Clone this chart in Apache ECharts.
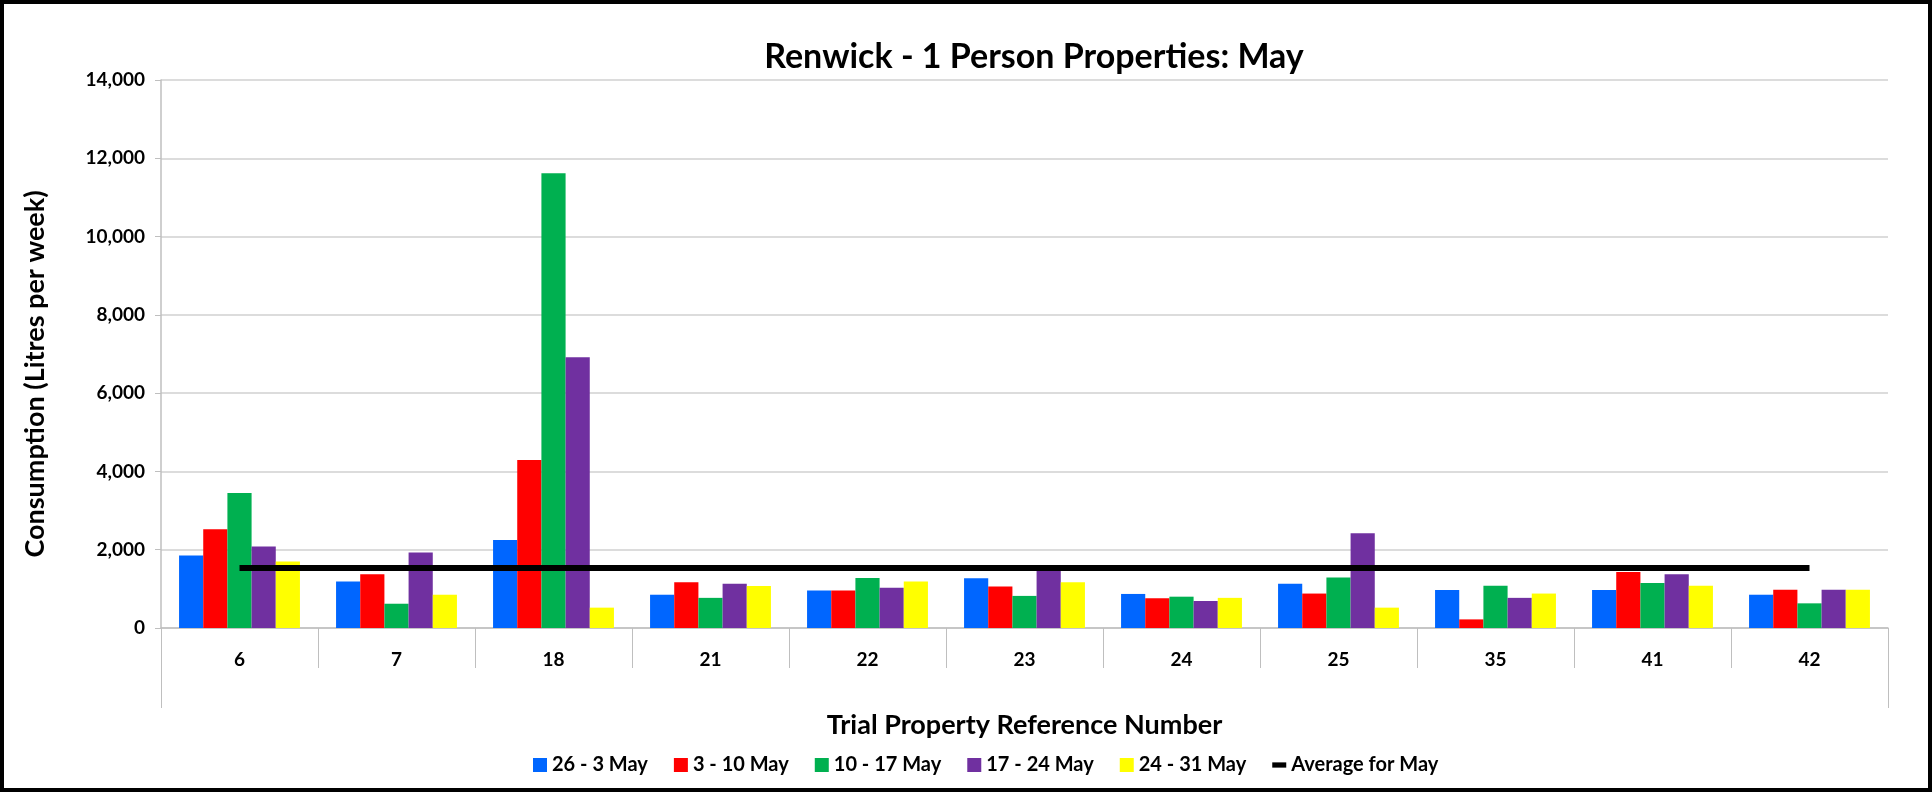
<!DOCTYPE html>
<html>
<head>
<meta charset="utf-8">
<script src="https://cdn.jsdelivr.net/npm/echarts@6/dist/echarts.min.js"></script>
<style>
html,body{margin:0;padding:0;background:#fff;}
#chart{width:1932px;height:792px;box-sizing:border-box;border:4px solid #000;}
</style>
</head>
<body>
<div id="chart"></div>
<script>
const categories = ['6','7','18','21','22','23','24','25','35','41','42'];
const seriesNames = ['26 - 3 May','3 - 10 May','10 - 17 May','17 - 24 May','24 - 31 May'];
const week1 = [1850, 1190, 2250, 850, 960, 1270, 870, 1130, 970, 970, 850];
const week2 = [2520, 1370, 4290, 1170, 960, 1060, 760, 880, 220, 1430, 980];
const week3 = [3450, 620, 11620, 770, 1280, 820, 800, 1290, 1080, 1150, 630];
const week4 = [2080, 1930, 6920, 1130, 1030, 1560, 690, 2420, 770, 1370, 980];
const week5 = [1700, 850, 520, 1070, 1190, 1170, 770, 520, 880, 1080, 980];
const averageName = 'Average for May';
const averageValue = [1530, 1530, 1530, 1530, 1530, 1530, 1530, 1530, 1530, 1530, 1530];
const colors = ['#0066FF','#FF0000','#00B050','#7030A0','#FFFF00'];
const weeks = [week1, week2, week3, week4, week5];

const FONT = 'Lato, "Liberation Sans", sans-serif';
const chart = echarts.init(document.getElementById('chart'), null, {renderer:'canvas'});

const barSeries = weeks.map((d, i) => ({
  name: seriesNames[i],
  type: 'bar',
  data: d,
  barGap: '0%',
  barCategoryGap: '23%',
  itemStyle: {color: colors[i]},
  animation: false
}));

chart.setOption({
  animation: false,
  title: {
    text: 'Renwick - 1 Person Properties: May',
    left: 1030,
    top: 36,
    padding: 0,
    textAlign: 'center',
    textStyle: {fontFamily: FONT, fontWeight: 'bold', fontSize: 34, color: '#000'}
  },
  legend: {
    bottom: 8,
    left: 524,
    itemWidth: 14,
    itemHeight: 14,
    itemGap: 26,
    data: seriesNames.map(n => ({name: n, icon: 'rect'})).concat([{
      name: averageName,
      icon: 'path://M0,0M0,5H16V11H0ZM16,16'
    }]),
    textStyle: {fontFamily: FONT, fontWeight: 'bold', fontSize: 20, color: '#000'}
  },
  grid: {left: 157, right: 40, top: 76, bottom: 160, containLabel: false},
  xAxis: [{
    type: 'category',
    data: categories,
    name: 'Trial Property Reference Number',
    nameLocation: 'middle',
    nameGap: 84,
    nameTextStyle: {fontFamily: FONT, fontWeight: 'bold', fontSize: 27, color: '#000'},
    axisLine: {show: true, lineStyle: {color: '#BFBFBF', width: 1.5}},
    axisTick: {show: true, interval: 0, length: 40, lineStyle: {color: '#BFBFBF', width: 1}},
    axisLabel: {interval: 0, margin: 22, fontFamily: FONT, fontWeight: 'bold', fontSize: 19, color: '#000'},
    splitLine: {show: false}
  }, {
    type: 'category',
    data: [''],
    position: 'bottom',
    axisLine: {show: false},
    axisTick: {show: true, length: 80, lineStyle: {color: '#BFBFBF', width: 1}},
    axisLabel: {show: false},
    splitLine: {show: false}
  }],
  yAxis: {
    type: 'value',
    min: 0,
    max: 14000,
    interval: 2000,
    name: 'Consumption (Litres per week)',
    nameLocation: 'middle',
    nameGap: 112,
    nameTextStyle: {fontFamily: FONT, fontWeight: 'bold', fontSize: 27, color: '#000', padding: [0, 40, 0, 0]},
    axisLine: {show: true, lineStyle: {color: '#BFBFBF', width: 1.5}},
    axisTick: {show: true, length: 6, lineStyle: {color: '#BFBFBF'}},
    axisLabel: {
      margin: 16,
      fontFamily: FONT, fontWeight: 'bold', fontSize: 19, color: '#000',
      formatter: v => v.toLocaleString('en-US')
    },
    splitLine: {show: true, lineStyle: {color: '#D0D0D0', width: 1.5}}
  },
  series: barSeries.concat([{
    name: averageName,
    type: 'line',
    data: averageValue,
    symbol: 'none',
    lineStyle: {color: '#000', width: 6},
    itemStyle: {color: '#000'},
    z: 5,
    animation: false
  }])
});
</script>
</body>
</html>
